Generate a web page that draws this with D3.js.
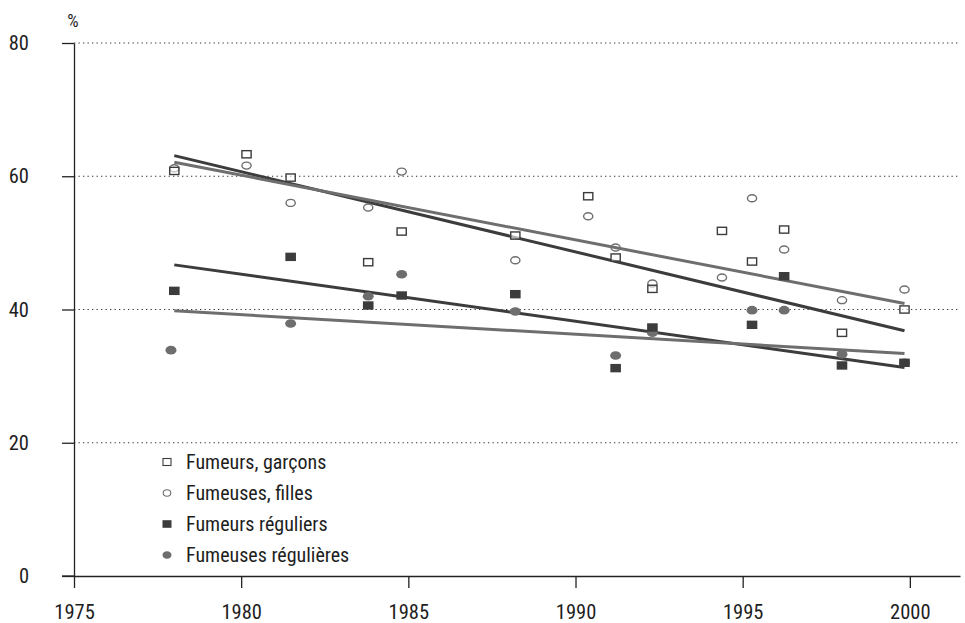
<!DOCTYPE html>
<html>
<head>
<meta charset="utf-8">
<script src="https://cdn.jsdelivr.net/npm/d3@7/dist/d3.min.js"></script>
<style>
  html, body { margin: 0; padding: 0; background: #fff; }
  svg { display: block; }
  text { font-family: "Liberation Sans Narrow", "Roboto Condensed", "Arial Narrow", "Liberation Sans", sans-serif; fill: #1e1e1e; }
</style>
</head>
<body>
<script>
// Survey years and shares of young smokers (%)
const years = [1978.0, 1980.16, 1981.48, 1983.8, 1984.8, 1988.2, 1990.38, 1991.2, 1992.3, 1994.38, 1995.28, 1996.24, 1997.97, 1999.84];
const fumeursGarcons   = [60.8, 63.3, 59.8, 47.1, 51.7, 51.1, 57.0, 47.8, 43.1, 51.8, 47.2, 52.0, 36.5, 40.0];
const fumeusesFilles   = [61.2, 61.6, 56.0, 55.3, 60.7, 47.4, 54.0, 49.3, 43.9, 44.8, 56.7, 49.0, 41.4, 43.0];

const yearsReguliers   = [1978.0, 1981.48, 1983.8, 1984.8, 1988.2, 1991.2, 1992.3, 1995.28, 1996.24, 1997.97, 1999.84];
const fumeursReguliers = [42.8, 47.9, 40.6, 42.1, 42.3, 31.2, 37.3, 37.7, 45.0, 31.6, 32.0];

const yearsRegulieres   = [1977.9, 1981.48, 1983.8, 1984.8, 1988.2, 1991.2, 1992.3, 1995.28, 1996.24, 1997.97, 1999.84];
const fumeusesRegulieres = [33.9, 37.9, 42.0, 45.3, 39.7, 33.1, 36.5, 39.9, 39.9, 33.3, 32.0];

// Linear trend end points [year, %]
const trendYears = [1978.0, 1999.84];
const trendGarcons    = [63.1, 36.8];
const trendFilles     = [62.1, 40.9];
const trendReguliers  = [46.7, 31.3];
const trendRegulieres = [39.8, 33.4];

const xTicks = [1975, 1980, 1985, 1990, 1995, 2000];
const yTicks = [0, 20, 40, 60, 80];
const legendLabels = ["Fumeurs, garçons", "Fumeuses, filles", "Fumeurs réguliers", "Fumeuses régulières"];

const W = 965, H = 623;
const dark = "#3c3c3c", grey = "#6e6e6e";

const svg = d3.select("body").append("svg").attr("width", W).attr("height", H);

const x = d3.scaleLinear().domain([1975, 2001.5]).range([74, 960]);
const y = d3.scaleLinear().domain([0, 80]).range([576, 43]);

// Dotted horizontal gridlines
svg.append("g").selectAll("line").data(yTicks.filter(d => d > 0)).join("line")
  .attr("x1", x(1975)).attr("x2", 960)
  .attr("y1", d => y(d)).attr("y2", d => y(d))
  .attr("stroke", "#333").attr("stroke-width", 1.1)
  .attr("stroke-dasharray", "1.3,3.2");

// Axes
const yAxis = svg.append("g").attr("transform", `translate(${x(1975)},0)`)
  .call(d3.axisLeft(y).tickValues(yTicks).tickSize(12).tickSizeOuter(0).tickPadding(33));
const xAxis = svg.append("g").attr("transform", `translate(0,${y(0)})`)
  .call(d3.axisBottom(x).tickValues(xTicks).tickFormat(d3.format("d")).tickSize(12).tickSizeOuter(0).tickPadding(16));
[yAxis, xAxis].forEach(g => {
  g.attr("font-size", null).attr("font-family", null);
  g.select(".domain").attr("stroke", "#222").attr("stroke-width", 1.3);
  g.selectAll(".tick line").attr("stroke", "#222").attr("stroke-width", 1.3);
  g.selectAll(".tick text").style("font-size", "20.5px").attr("fill", "#1e1e1e");
});
// x axis line reaches back to the y tick marks
svg.append("line").attr("x1", x(1975) - 12).attr("x2", x(1975))
  .attr("y1", y(0)).attr("y2", y(0)).attr("stroke", "#222").attr("stroke-width", 1.3);

svg.append("text").attr("x", x(1975) - 1).attr("y", 27).attr("text-anchor", "middle")
  .style("font-size", "18px").text("%");

// Trend lines
const trends = [
  { v: trendGarcons, c: dark },
  { v: trendFilles, c: grey },
  { v: trendReguliers, c: dark },
  { v: trendRegulieres, c: grey }
];
svg.append("g").selectAll("line").data(trends).join("line")
  .attr("x1", x(trendYears[0])).attr("x2", x(trendYears[1]))
  .attr("y1", d => y(d.v[0])).attr("y2", d => y(d.v[1]))
  .attr("stroke", d => d.c).attr("stroke-width", 3);

// Markers
const pts = (xs, vs) => xs.map((t, i) => [t, vs[i]]);

svg.append("g").selectAll("ellipse").data(pts(yearsRegulieres, fumeusesRegulieres)).join("ellipse")
  .attr("cx", d => x(d[0])).attr("cy", d => y(d[1]))
  .attr("rx", 5.5).attr("ry", 4.3).attr("fill", grey);

svg.append("g").selectAll("rect").data(pts(yearsReguliers, fumeursReguliers)).join("rect")
  .attr("x", d => x(d[0]) - 5.3).attr("y", d => y(d[1]) - 4.2)
  .attr("width", 10.6).attr("height", 8.4).attr("fill", dark);

svg.append("g").selectAll("ellipse").data(pts(years, fumeusesFilles)).join("ellipse")
  .attr("cx", d => x(d[0])).attr("cy", d => y(d[1]))
  .attr("rx", 4.6).attr("ry", 3.5).attr("fill", "#fff").attr("fill-opacity", 0)
  .attr("stroke", grey).attr("stroke-width", 1.4);

svg.append("g").selectAll("rect").data(pts(years, fumeursGarcons)).join("rect")
  .attr("x", d => x(d[0]) - 4.6).attr("y", d => y(d[1]) - 3.6)
  .attr("width", 9.2).attr("height", 7.2).attr("fill", "#fff").attr("fill-opacity", 0.6)
  .attr("stroke", dark).attr("stroke-width", 1.4);

// Legend
const lg = svg.append("g");
const rowY = [462, 493, 524, 555];
const lx = 167;
lg.append("rect").attr("x", lx - 4).attr("y", rowY[0] - 3.5).attr("width", 8).attr("height", 7)
  .attr("fill", "#fff").attr("stroke", dark).attr("stroke-width", 1.1);
lg.append("ellipse").attr("cx", lx).attr("cy", rowY[1]).attr("rx", 3.8).attr("ry", 3.2)
  .attr("fill", "#fff").attr("stroke", grey).attr("stroke-width", 1.1);
lg.append("rect").attr("x", lx - 4.5).attr("y", rowY[2] - 3.8).attr("width", 9).attr("height", 7.6)
  .attr("fill", dark);
lg.append("ellipse").attr("cx", lx).attr("cy", rowY[3]).attr("rx", 4.5).attr("ry", 3.8)
  .attr("fill", grey);
lg.selectAll("text").data(legendLabels).join("text")
  .attr("x", 186).attr("y", (d, i) => rowY[i]).attr("dy", "0.36em")
  .style("font-size", "20px").text(d => d);
</script>
</body>
</html>
